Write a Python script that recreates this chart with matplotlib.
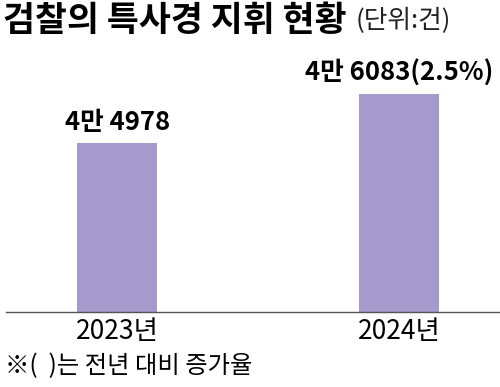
import matplotlib
matplotlib.use('Agg')
import matplotlib.pyplot as plt

plt.rcParams['font.family'] = ['Noto Sans CJK KR', 'DejaVu Sans']

# data
years = ['2023년', '2024년']
counts = [44978, 46083]
value_labels = ['4만 4978', '4만 6083(2.5%)']

bar_color = '#a699cc'

fig = plt.figure(figsize=(5, 3.87), dpi=100)
# axes: baseline at y=312px, bars centred at x=117 and 399
ax = fig.add_axes([6/500, (387-312)/387, 494/500, (312-60)/387])

ax.bar(range(len(years)), counts, width=0.284, color=bar_color)
ax.set_xlim(-0.394, 1.358)
ax.set_ylim(41167, 46850)

for i, (v, lab) in enumerate(zip(counts, value_labels)):
    ax.annotate(lab, (i, v), xytext=(0, 5), textcoords='offset points',
                ha='center', va='bottom', fontsize=18.5, color='black',
                fontweight='bold')

ax.set_xticks(range(len(years)))
ax.set_xticklabels(years, fontsize=19)
ax.tick_params(axis='x', length=0, pad=4)
ax.set_yticks([])
for s in ['top', 'right', 'left']:
    ax.spines[s].set_visible(False)
ax.spines['bottom'].set_color('#555555')
ax.spines['bottom'].set_linewidth(1)

fig.text(3/500, 1 - 20/387, '검찰의 특사경 지휘 현황', fontsize=25, fontweight='black',
         va='center', ha='left')
fig.text(356/500, 1 - 21/387, '(단위:건)', fontsize=18.5, va='center', ha='left',
         color='#222222')
fig.text(5/500, 1 - 366/387, '※(  )는 전년 대비 증가율', fontsize=17.5, va='center', ha='left')

fig.savefig('out.png', dpi=100)
